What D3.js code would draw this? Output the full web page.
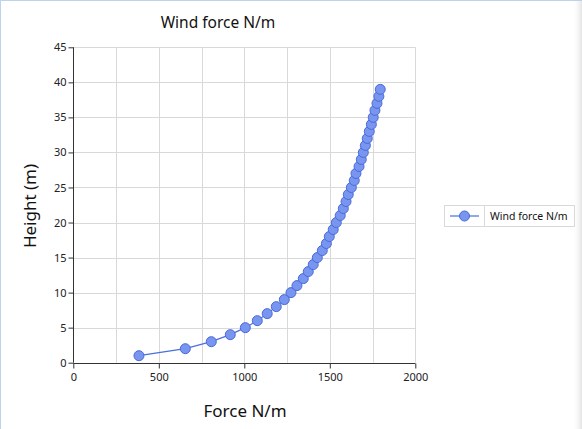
<!DOCTYPE html>
<html><head><meta charset="utf-8">
<script src="https://cdn.jsdelivr.net/npm/d3@7"></script>
<style>
html,body{margin:0;padding:0;background:#fff;}
svg{display:block;}
</style></head>
<body>
<svg id="chart" width="582" height="429"></svg>
<script>
const heights = [1,2,3,4,5,6,7,8,9,10,11,12,13,14,15,16,17,18,19,20,21,22,23,24,25,26,27,28,29,30,31,32,33,34,35,36,37,38,39];
const forces = [384,655,807,918,1006,1076,1134,1187,1234,1273,1308,1345,1374,1403,1427,1456,1480,1497,1520,1538,1561,1579,1595,1608,1626,1643,1653,1671,1684,1696,1708,1719,1731,1743,1754,1764,1776,1787,1795];
const xTicks = [0,500,1000,1500,2000];
const xGrid = [250,500,750,1000,1250,1500,1750,2000];
const yTicks = [0,5,10,15,20,25,30,35,40,45];
const seriesName = "Wind force N/m";
const titleText = "Wind force N/m";
const xTitle = "Force N/m";
const yTitle = "Height (m)";

const font = "'Noto Sans', 'Open Sans', sans-serif";
const svg = d3.select("#chart");

// window border/shadow
const defs = svg.append("defs");
const grad = defs.append("linearGradient").attr("id","shadow").attr("x1","0").attr("x2","1");
grad.append("stop").attr("offset","0").attr("stop-color","#fff").attr("stop-opacity",0);
grad.append("stop").attr("offset","1").attr("stop-color","#e4e4e4").attr("stop-opacity",1);
svg.append("rect").attr("x",572).attr("y",0).attr("width",10).attr("height",429).attr("fill","url(#shadow)");
svg.append("line").attr("x1",0.5).attr("x2",0.5).attr("y1",0).attr("y2",429).attr("stroke","#bcd3ec");
svg.append("line").attr("x1",0).attr("x2",582).attr("y1",0.5).attr("y2",0.5).attr("stroke","#bcd3ec");

const L = 73.3, R = 415.3, T = 47.3, B = 362.7;
const x = d3.scaleLinear().domain([0,2000]).range([L,R]);
const y = d3.scaleLinear().domain([0,45]).range([B,T]);

// grid
svg.append("g").selectAll("line").data(xGrid).join("line")
  .attr("x1",d=>Math.round(x(d))+0.5).attr("x2",d=>Math.round(x(d))+0.5)
  .attr("y1",T).attr("y2",B).attr("stroke","#d9d9d9").attr("stroke-width",1);
svg.append("g").selectAll("line").data(yTicks.filter(d=>d>0)).join("line")
  .attr("y1",d=>Math.round(y(d))+0.5).attr("y2",d=>Math.round(y(d))+0.5)
  .attr("x1",L).attr("x2",R).attr("stroke","#d9d9d9").attr("stroke-width",1);

// axes
const xAxis = d3.axisBottom(x).tickValues(xTicks).tickSize(5).tickFormat(d3.format("d"));
const yAxis = d3.axisLeft(y).tickValues(yTicks).tickSize(5).tickFormat(d3.format("d"));
const gx = svg.append("g").attr("transform",`translate(0,${Math.round(B)+0.5})`).call(xAxis);
const gy = svg.append("g").attr("transform",`translate(${Math.round(L)+0.5},0)`).call(yAxis);
[gx,gy].forEach(g=>{
  g.select(".domain").attr("stroke","#333").attr("stroke-width",1);
  g.selectAll(".tick line").attr("stroke","#333");
  g.selectAll(".tick text").attr("fill","#222").style("font-family",font).style("font-size","11px");
});
gx.select(".domain").attr("d",`M${L},0H${R}`);
gy.select(".domain").attr("d",`M0,${T}V${B}`);
gx.selectAll(".tick text").attr("dy","0.9em");
gy.selectAll(".tick text").attr("x",-7);

// line + markers
const data = heights.map((h,i)=>({h, f:forces[i]}));
svg.append("path").datum(data)
  .attr("fill","none").attr("stroke","#4a6ee0").attr("stroke-width",1.2)
  .attr("d", d3.line().x(d=>x(d.f)).y(d=>y(d.h)));
svg.append("g").selectAll("circle").data(data).join("circle")
  .attr("cx",d=>x(d.f)).attr("cy",d=>y(d.h)).attr("r",5)
  .attr("fill","#7895f0").attr("stroke","#4a6ad8").attr("stroke-width",1);

// titles
svg.append("text").attr("x",218).attr("y",28).attr("text-anchor","middle")
  .style("font-family",font).style("font-size","15.5px").attr("fill","#111").text(titleText);
svg.append("text").attr("x",245).attr("y",417).attr("text-anchor","middle")
  .style("font-family",font).style("font-size","17px").attr("fill","#111").text(xTitle);
svg.append("text").attr("transform","translate(36,206) rotate(-90)").attr("text-anchor","middle")
  .style("font-family",font).style("font-size","17px").attr("fill","#111").text(yTitle);

// legend
const lg = svg.append("g");
lg.append("rect").attr("x",444.5).attr("y",205.5).attr("width",130).attr("height",21)
  .attr("fill","#fff").attr("stroke","#d9d9d9");
lg.append("line").attr("x1",484.5).attr("x2",484.5).attr("y1",205.5).attr("y2",226.5).attr("stroke","#d9d9d9");
lg.append("line").attr("x1",450).attr("x2",479).attr("y1",216).attr("y2",216).attr("stroke","#4a6ee0").attr("stroke-width",1.2);
lg.append("circle").attr("cx",464.5).attr("cy",216).attr("r",5).attr("fill","#7895f0").attr("stroke","#4a6ad8");
lg.append("text").attr("x",490).attr("y",220).style("font-family",font).style("font-size","10.5px").attr("fill","#111").text(seriesName);
</script>
</body></html>
